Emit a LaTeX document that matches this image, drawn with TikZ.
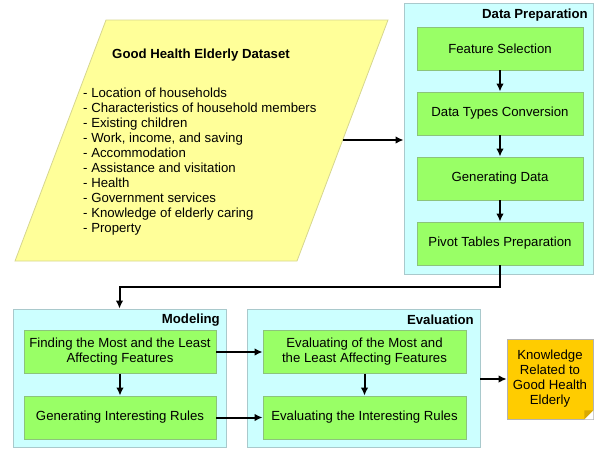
\documentclass[tikz,border=0pt]{standalone}
\usepackage{fontspec}
\setmainfont{Liberation Sans}
\usepackage{tikz}
\usetikzlibrary{positioning, arrows.meta}

\definecolor{stagefill}{HTML}{CCFFFF}
\definecolor{stageline}{HTML}{A9C9CC}
\definecolor{taskfill}{HTML}{99FF66}
\definecolor{taskline}{HTML}{8CC47C}
\definecolor{datafill}{HTML}{FFFF99}
\definecolor{dataline}{HTML}{D6D68F}
\definecolor{notefill}{HTML}{FFCC00}
\definecolor{notefold}{HTML}{D9A900}

\newcommand{\textsz}{\fontsize{13.2}{15}\selectfont}

\tikzset{
    stage/.style = {draw=stageline, fill=stagefill, line width=0.8pt, inner sep=0pt},
    task/.style = {draw=taskline, fill=taskfill, line width=0.8pt, minimum height=43pt,
        align=center, inner sep=2pt},
    heading/.style = {font=\textsz\bfseries, inner sep=0pt, anchor=east},
    flow/.style = {-{Latex[length=8pt, width=7.5pt]}, line width=2pt},
}

\begin{document}
\begin{tikzpicture}[x=1pt, y=-1pt, font=\textsz]
    \useasboundingbox (0, 0) rectangle (594, 448);

    % input dataset
    \coordinate (dsa) at (106, 20);
    \coordinate (dsb) at (388, 20);
    \coordinate (dsc) at (297, 261);
    \coordinate (dsd) at (15, 261);
    \draw [draw=dataline, fill=datafill, line width=0.8pt] (dsa) -- (dsb) -- (dsc) -- (dsd) -- cycle;
    \node [font=\textsz\bfseries] (dstitle) at (201, 55) {Good Health Elderly Dataset};
    \node [align=left, anchor=west, inner sep=0pt] (dslist) at (83, 162) {- Location of households\\
        - Characteristics of household members\\
        - Existing children\\
        - Work, income, and saving\\
        - Accommodation\\
        - Assistance and visitation\\
        - Health\\
        - Government services\\
        - Knowledge of elderly caring\\
        - Property};
    \coordinate (dsedge) at (343, 140);

    % stages
    \node [stage, minimum width=189pt, minimum height=271pt] (prep) at (498.5, 138.5) {};
    \node [stage, minimum width=213pt, minimum height=138pt] (modeling) at (119.5, 378) {};
    \node [stage, minimum width=233pt, minimum height=138pt] (evaluation) at (363.5, 378) {};
    \node [heading] (preptitle) at (588, 15) {Data Preparation};
    \node [heading] (modtitle) at (220, 320) {Modeling};
    \node [heading] (evaltitle) at (474, 320) {Evaluation};

    % data preparation steps
    \node [task, minimum width=166pt] (feature) at (500, 48.5) {Feature Selection};
    \node [task, minimum width=166pt] (convert) at (500, 113.5) {Data Types Conversion};
    \node [task, minimum width=166pt] (generate) at (500, 178.5) {Generating Data};
    \node [task, minimum width=166pt] (pivot) at (500, 243.5) {Pivot Tables Preparation};

    % modeling and evaluation steps
    \node [task, minimum width=192pt] (find) at (120, 352) {Finding the Most and the Least\\Affecting Features};
    \node [task, minimum width=192pt] (rules) at (120, 417.5) {Generating Interesting Rules};
    \node [task, minimum width=203pt] (evalfeat) at (364.5, 352) {Evaluating of the Most and\\the Least Affecting Features};
    \node [task, minimum width=203pt] (evalrules) at (364.5, 417.5) {Evaluating the Interesting Rules};

    % result
    \node [draw=gray!60, fill=notefill, line width=0.6pt, minimum width=86pt, minimum height=80pt,
        align=center, inner sep=0pt] (note) at (550, 379) {Knowledge\\Related to\\Good Health\\Elderly};
    \fill [white] ([xshift=-9pt]note.south east) -- (note.south east) -- ([yshift=9pt]note.south east) -- cycle;
    \fill [notefold] ([xshift=-9pt]note.south east) -- ([yshift=9pt]note.south east)
        -- ([xshift=-9pt, yshift=9pt]note.south east) -- cycle;

    % connectors
    \draw [flow] (dsedge) -- (dsedge -| prep.west);
    \draw [flow] (feature) -- (convert);
    \draw [flow] (convert) -- (generate);
    \draw [flow] (generate) -- (pivot);
    \draw [flow] (pivot.south) -- ++(0, 22) -| (modeling.north);
    \draw [flow] (find) -- (rules);
    \draw [flow] (evalfeat) -- (evalrules);
    \draw [flow] (find) -- (evalfeat);
    \draw [flow] (rules) -- (evalrules);
    \draw [flow] (evaluation.east |- note.west) -- (note.west);
\end{tikzpicture}
\end{document}
